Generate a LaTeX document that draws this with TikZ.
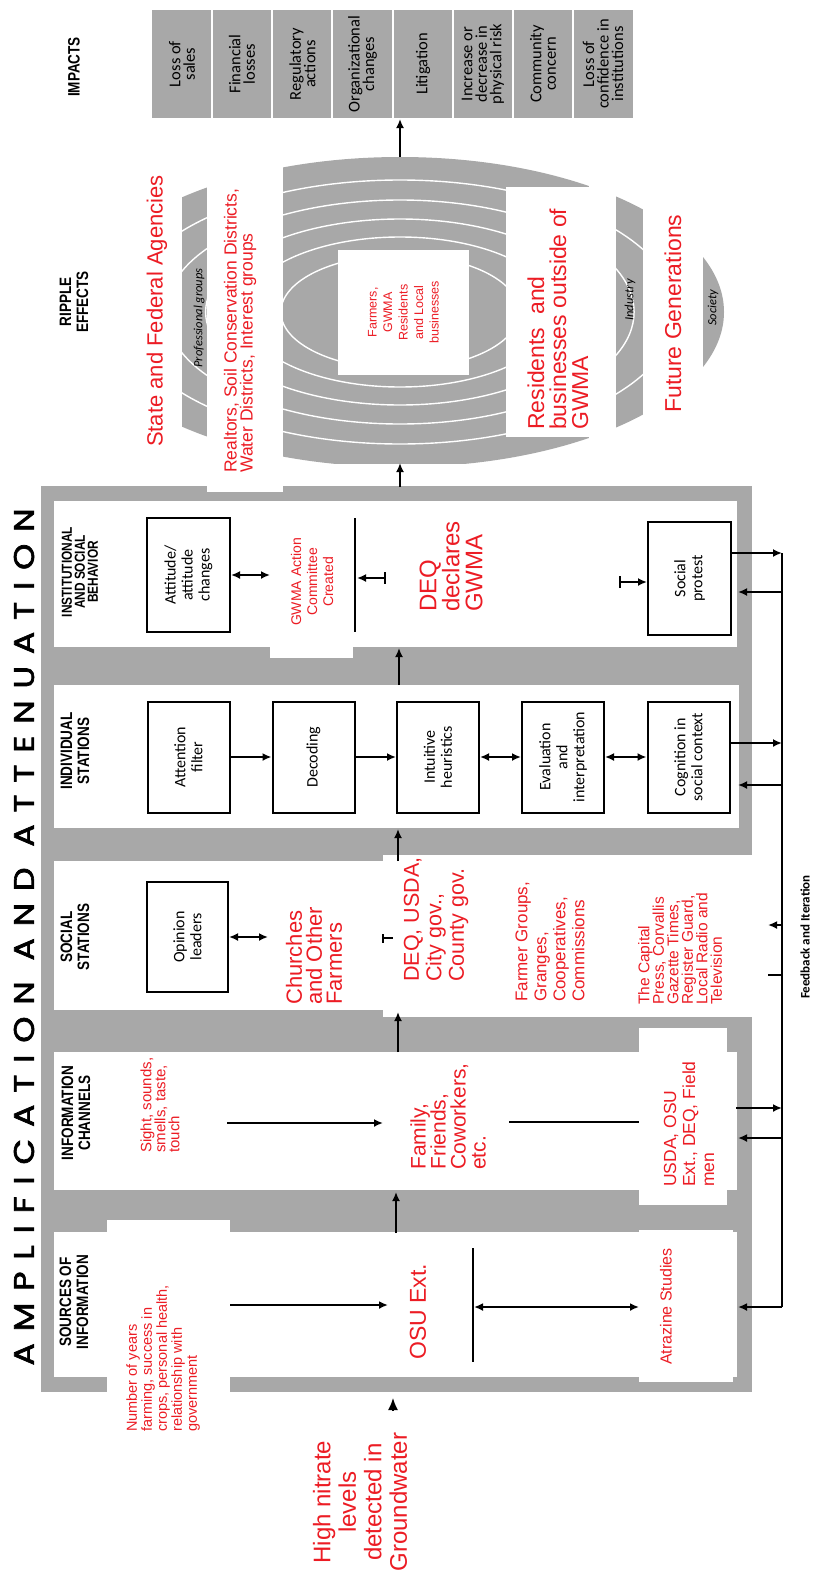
\documentclass[tikz,border=0pt]{standalone}
\usepackage{fontspec}
\usepackage{graphicx}
\usetikzlibrary{arrows.meta}
\setmainfont{Liberation Sans}
\newfontfamily\redfont{Liberation Sans}
\newfontfamily\hdrfont[FakeStretch=0.82]{Liberation Sans}
\newfontfamily\boxfont{Carlito}
\newfontfamily\titlefont[LetterSpace=36,FakeBold=2.2]{Poppins}
\definecolor{grayc}{RGB}{168,168,168}
\definecolor{redc}{RGB}{236,28,36}
\newcommand{\fsz}[2]{\fontsize{#1}{#2}\selectfont}
\begin{document}
\begin{tikzpicture}[x=1pt,y=-1pt,
  redtxt/.style={rotate=90, text=redc, inner sep=0pt, align=left},
  redctr/.style={rotate=90, text=redc, inner sep=0pt, align=center},
  hdr/.style={rotate=90, inner sep=0pt, align=center, font=\hdrfont\bfseries\fsz{16.5}{17}},
  sbox/.style={rotate=90, draw=black, line width=2pt, fill=white, align=center, inner sep=1pt, font=\boxfont\fsz{16}{17}},
  imp/.style={rotate=90, inner sep=0pt, align=center, font=\boxfont\fsz{16.5}{14.5}},
  arr/.style={line width=1.8pt, -{Latex[length=9pt,width=8pt]}},
  darr/.style={line width=1.8pt, {Latex[length=9pt,width=8pt]}-{Latex[length=9pt,width=8pt]}},
  plainln/.style={line width=1.8pt},
  fb/.style={line width=1.6pt},
  cover/.style={fill=white},
  ringline/.style={draw=white, line width=1.4pt},
  ringlbl/.style={rotate=90, inner sep=0pt, font=\boxfont\itshape\fsz{12.5}{12}},
]
\useasboundingbox (0,0) rectangle (812,1574);
\fill[white] (0,0) rectangle (812,1574);

% title
\node[rotate=90, inner sep=0pt] (title) at (24,937) {\resizebox{857pt}{20pt}{\titlefont AMPLIFICATION AND ATTENUATION}};

% column frames
\fill[grayc] (41,486) rectangle (752,1392);
\fill[white] (54,501) rectangle (737,647);
\fill[white] (54,685) rectangle (739,828);
\fill[white] (54,861) rectangle (737,1010);
\fill[white] (54,1052) rectangle (737,1190);
\fill[white] (54,1232) rectangle (737,1377);

% ripple effects
\begin{scope}
\clip (0,0) rectangle (812,463);
\fill[grayc] (400,312) ellipse [x radius=324, y radius=155];
\foreach \r in {132,112,93,75,57} {\draw[ringline] (400,312) ellipse [x radius={2.09*\r}, y radius=\r];}
\end{scope}
\node[ringlbl] (lblInd) at (630,300) {Industry};
\node[ringlbl] (lblSoc) at (713,308) {Society};
\node[ringlbl] (lblPro) at (199,318) {Professional groups};

% white covers behind red texts
\fill[cover] (55,150) rectangle (182,480);
\fill[cover] (207,165) rectangle (283,492);
\fill[cover] (506,187) rectangle (593,437);
\fill[cover] (589,150) rectangle (616,470);
\fill[cover] (643,150) rectangle (703,470);
\fill[cover] (270,505) rectangle (353,658);
\fill[cover] (383,855) rectangle (753,1017);
\fill[cover] (639,1028) rectangle (727,1205);
\fill[cover] (107,1220) rectangle (230,1450);
\fill[cover] (639,1230) rectangle (733,1382);

\node[redctr, fill=white, minimum width=125, minimum height=131, font=\redfont\fsz{12.5}{15.5}] (core) at (403.5,312.5) {Farmers,\\GWMA\\Residents\\and Local\\businesses};

% impacts
\fill[grayc] (152,10) rectangle (633,118);
\foreach \i in {1,...,7} {\draw[white, line width=2pt] ({152+60.125*\i},10) -- ({152+60.125*\i},118);}
\node[imp] (i1) at (182,64) {Loss of\\sales};
\node[imp] (i2) at (242,64) {Financial\\losses};
\node[imp] (i3) at (302.5,64) {Regulatory\\actions};
\node[imp] (i4) at (362.5,64) {Organizational\\changes};
\node[imp] (i5) at (423,64) {Litigation};
\node[imp] (i6) at (483,64) {Increase or\\decrease in\\physical risk};
\node[imp] (i7) at (543,64) {Community\\concern};
\node[imp] (i8) at (603,64) {Loss of\\confidence in\\institutions};

% headers
\node[hdr] (hImp) at (74,67) {IMPACTS};
\node[hdr] (hRip) at (74,302) {RIPPLE\\EFFECTS};
\node[hdr, font=\hdrfont\bfseries\fsz{14.5}{13}] (hInst) at (80,572) {INSTITUTIONAL\\AND SOCIAL\\BEHAVIOR};
\node[hdr] (hInd) at (75,751) {INDIVIDUAL\\STATIONS};
\node[hdr] (hSoc) at (75,937) {SOCIAL\\STATIONS};
\node[hdr] (hCh) at (76,1113) {INFORMATION\\CHANNELS};
\node[hdr] (hSrc) at (74,1302) {SOURCES OF\\INFORMATION};

% red texts
\node[redtxt, anchor=west, font=\redfont\fsz{22}{24}] (state) at (157,447) {State and Federal Agencies};
\node[redtxt, anchor=west, font=\redfont\fsz{17.5}{16}] (realt) at (240,473) {Realtors, Soil Conservation Districts,\\Water Districts, Interest groups};
\node[redtxt, anchor=west, font=\redfont\fsz{23}{22}] (resid) at (558,430) {Residents\ \ and\\businesses outside of\\GWMA};
\node[redtxt, anchor=west, font=\redfont\fsz{23}{24}] (future) at (673,413) {Future Generations};
\node[redctr, font=\redfont\fsz{14}{16}] (gwmaac) at (312,582) {GWMA Action\\Committee\\Created};
\node[redtxt, anchor=west, font=\redfont\fsz{24}{23}] (deqdecl) at (451,612) {DEQ\\declares\\GWMA};
\node[redtxt, anchor=west, font=\redfont\fsz{22}{20}] (church) at (314,1005) {Churches\\and Other\\Farmers};
\node[redtxt, anchor=west, font=\redfont\fsz{21.5}{22.5}] (dequsda) at (436,982) {DEQ, USDA,\\City gov.,\\County gov.};
\node[redtxt, anchor=west, font=\redfont\fsz{17}{19}] (farmgr) at (550,1002) {Farmer Groups,\\Granges,\\Cooperatives,\\Commissions};
\node[redtxt, anchor=west, font=\redfont\fsz{15.5}{14.5}] (capital) at (680,1005) {The Capital\\Press, Corvallis\\Gazette Times,\\Register Guard,\\Local Radio and\\Television};
\node[redtxt, anchor=west, font=\redfont\fsz{15}{14}] (sight) at (160,1153) {Sight, sounds,\\smells, taste,\\touch};
\node[redtxt, anchor=west, font=\redfont\fsz{21}{20}] (family) at (448,1170) {Family,\\Friends,\\Coworkers,\\etc.};
\node[redtxt, anchor=west, font=\redfont\fsz{17.5}{19}] (usda) at (689,1187) {USDA, OSU\\Ext., DEQ, Field\\men};
\node[redtxt, anchor=west, font=\redfont\fsz{14.5}{15}] (nyears) at (163,1432) {Number of years\\farming, success in\\crops, personal health,\\relationship with\\government};
\node[redtxt, anchor=west, font=\redfont\fsz{23}{24}] (osu) at (418,1360) {OSU Ext.};
\node[redtxt, anchor=west, font=\redfont\fsz{16}{18}] (atraz) at (666,1365) {Atrazine Studies};
\node[redctr, font=\redfont\fsz{24}{25.5}] (nitrate) at (360,1502) {High nitrate\\levels\\detected in\\Groundwater};

% boxes
\node[sbox, minimum width=114, minimum height=83] (attd) at (188.5,575) {Attitude/\\attitude\\changes};
\node[sbox, minimum width=113, minimum height=83] (sprot) at (689.5,578.5) {Social\\protest};
\node[sbox, minimum width=111, minimum height=82] (att) at (188.5,757) {Attention\\filter};
\node[sbox, minimum width=111, minimum height=82] (dec) at (313.5,757) {Decoding};
\node[sbox, minimum width=111, minimum height=82] (intu) at (438,757) {Intuitive\\heuristics};
\node[sbox, minimum width=111, minimum height=82] (evalb) at (563,757) {Evaluation\\and\\interpretation};
\node[sbox, minimum width=111, minimum height=82] (cog) at (688.5,757) {Cognition in\\social context};
\node[sbox, minimum width=110, minimum height=81] (opin) at (187.5,937) {Opinion\\leaders};

% connectors inside columns
\draw[arr] (att.south) -- (dec.north);
\draw[arr] (dec.south) -- (intu.north);
\draw[darr] (intu.south) -- (evalb.north);
\draw[darr] (evalb.south) -- (cog.north);
\coordinate (attdR) at (270,575);
\draw[darr] (attd.south) -- (attdR);
\coordinate (opinR) at (268,937);
\draw[darr] (opin.south) -- (opinR);
\coordinate (vlTop) at (355,518); \coordinate (vlBot) at (355,632);
\draw[plainln] (vlTop) -- (vlBot);
\coordinate (barI) at (386,578); \coordinate (tipI) at (357,578);
\draw[line width=1.8pt, {Latex[length=9pt,width=8pt]}-{Bar[width=12pt]}] (tipI) -- (barI);
\coordinate (barS) at (619,582);
\draw[line width=1.8pt, {Bar[width=12pt]}-{Latex[length=9pt,width=8pt]}] (barS) -- (sprot.north |- barS);
\coordinate (chA) at (227,1123); \coordinate (chB) at (383,1123);
\draw[arr] (chA) -- (chB);
\coordinate (chC) at (509,1122); \coordinate (chD) at (639,1122);
\draw[plainln] (chC) -- (chD);
\coordinate (srA) at (230,1305); \coordinate (srB) at (388,1305);
\draw[arr] (srA) -- (srB);
\coordinate (svT) at (473,1248); \coordinate (svB) at (473,1362);
\draw[plainln] (svT) -- (svB);
\coordinate (sdA) at (474,1307); \coordinate (sdB) at (639,1307);
\draw[darr] (sdA) -- (sdB);
\coordinate (plA) at (382,938); \coordinate (plB) at (393,938);
\draw[line width=1.5pt, {Bar[width=9pt]}-] (plA) -- (plB);

% main flow arrows
\coordinate (v1a) at (396,1233); \coordinate (v1b) at (396,1192);
\draw[arr] (v1a) -- (v1b);
\coordinate (v2a) at (398,1052); \coordinate (v2b) at (398,1012);
\draw[arr] (v2a) -- (v2b);
\coordinate (v3a) at (398,861); \coordinate (v3b) at (398,829);
\draw[arr] (v3a) -- (v3b);
\coordinate (v4a) at (399,685); \coordinate (v4b) at (399,648);
\draw[arr] (v4a) -- (v4b);
\coordinate (v5a) at (400,487); \coordinate (v5b) at (400,463);
\draw[arr] (v5a) -- (v5b);
\coordinate (v6a) at (400,157); \coordinate (v6b) at (400,119);
\draw[arr] (v6a) -- (v6b);
\coordinate (hnA) at (393,1411); \coordinate (hnB) at (393,1398);
\draw[line width=1.5pt, -{Latex[length=12pt,width=10pt]}] (hnA) -- (hnB);

% feedback loop
\coordinate (fbTop) at (782,553); \coordinate (fbBot) at (782,1307);
\draw[fb] (fbTop) -- (fbBot);
\draw[arr] (sprot.south |- fbTop) -- (fbTop);
\coordinate (fbI2) at (782,592); \coordinate (inI) at (738,592);
\draw[arr] (fbI2) -- (inI);
\coordinate (fbD1) at (782,743);
\draw[arr] (cog.south |- fbD1) -- (fbD1);
\coordinate (fbD2) at (782,785); \coordinate (inD) at (738,785);
\draw[arr] (fbD2) -- (inD);
\coordinate (fbS1) at (782,925); \coordinate (inS) at (768,925);
\draw[arr] (fbS1) -- (inS);
\coordinate (fbS2) at (782,975); \coordinate (outS) at (768,975);
\draw[fb] (outS) -- (fbS2);
\coordinate (fbC1) at (782,1108); \coordinate (outC) at (736,1108);
\draw[arr] (outC) -- (fbC1);
\coordinate (fbC2) at (782,1138); \coordinate (inC) at (738,1138);
\draw[arr] (fbC2) -- (inC);
\coordinate (inR) at (738,1307);
\draw[arr] (fbBot) -- (inR);
\node[rotate=90, inner sep=0pt, font=\boxfont\bfseries\fsz{13}{13}] (fbtxt) at (805,937) {Feedback and Iteration};
\end{tikzpicture}
\end{document}
